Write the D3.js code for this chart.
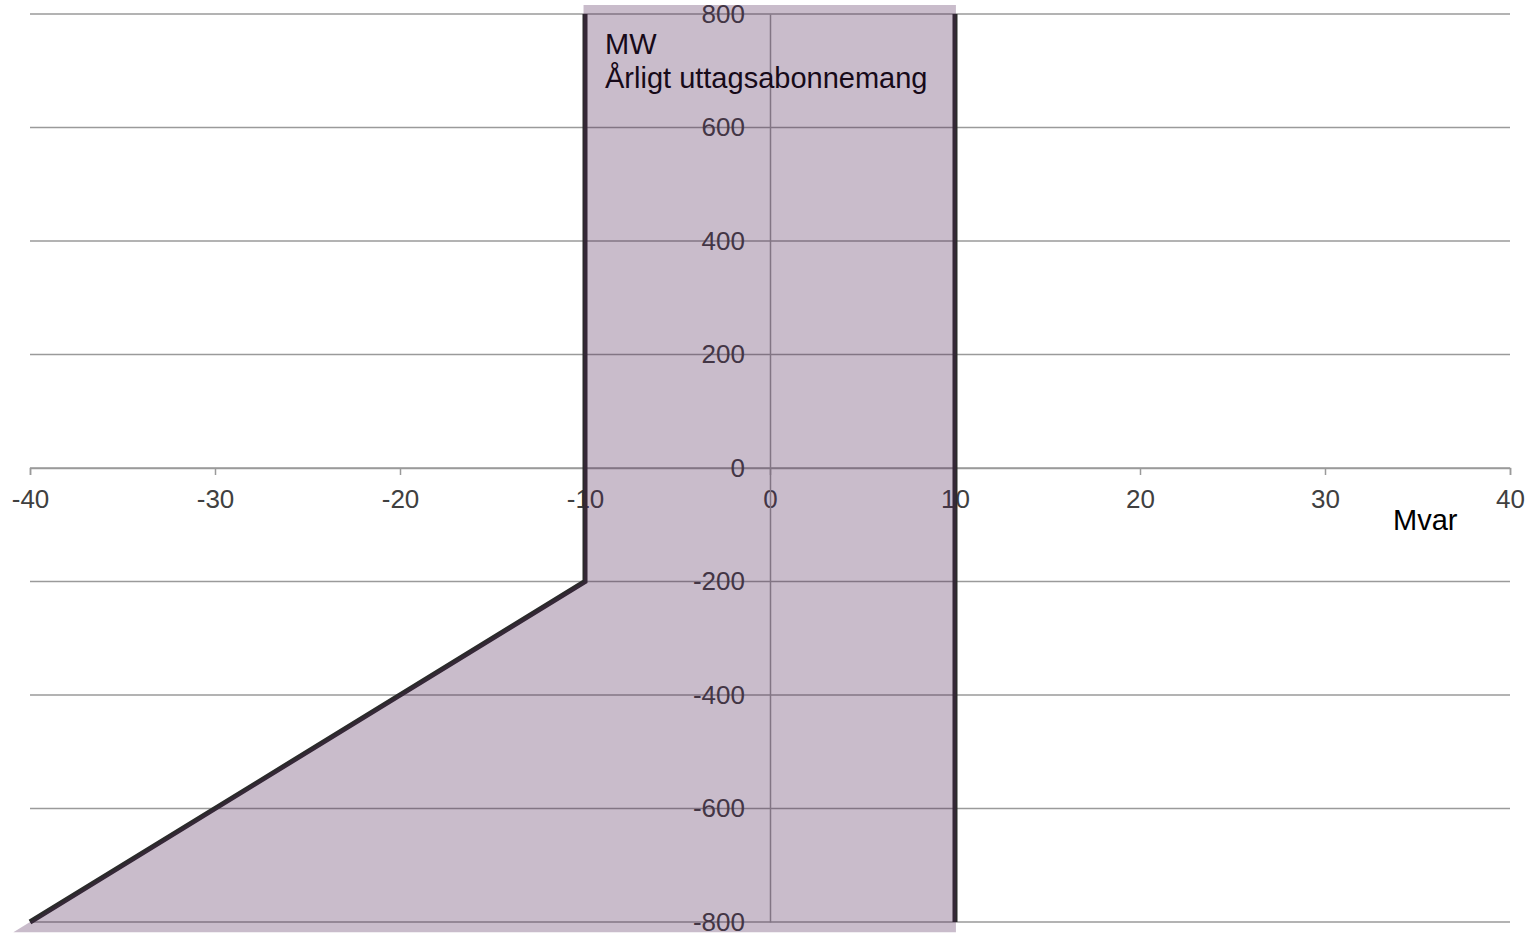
<!DOCTYPE html>
<html>
<head>
<meta charset="utf-8">
<script src="https://cdn.jsdelivr.net/npm/d3@7"></script>
<style>
  body { margin: 0; background: #fff; }
  text { font-family: "Liberation Sans", Arial, sans-serif; }
</style>
</head>
<body>
<script>
var w = 1536;
var h = 934;

// ticks
var xTicks = [-40, -30, -20, -10, 0, 10, 20, 30, 40];
var yTicks = [-800, -600, -400, -200, 0, 200, 400, 600, 800];

// boundary lines (Mvar, MW)
var leftLineX = [-40, -10, -10];
var leftLineY = [-800, -200, 800];
var rightLineX = [10, 10];
var rightLineY = [800, -800];

// shaded region (slightly larger than the boundary)
var areaX = [-40.9, -10.05, -10.08, 10.05, 10.05];
var areaY = [-818, -200, 816, 816, -818];

// plain hyphen for negatives, like the original
function fmt(d) {
    return String(d);
}

var xScale = d3.scaleLinear()
    .domain([-40, 40])
    .range([30, 1510]);

var yScale = d3.scaleLinear()
    .domain([-800, 800])
    .range([922, 14]);

var svg = d3.select("body")
    .append("svg")
    .attr("width", w)
    .attr("height", h);

// horizontal gridlines
svg.append("g")
    .selectAll("line")
    .data(yTicks)
    .enter()
    .append("line")
    .attr("x1", xScale(-40))
    .attr("x2", xScale(40))
    .attr("y1", function (d) { return yScale(d); })
    .attr("y2", function (d) { return yScale(d); })
    .attr("stroke", "#9a9a9a")
    .attr("stroke-width", 1.5);

// x axis through y = 0
var xAxis = d3.axisBottom(xScale)
    .tickValues(xTicks)
    .tickSize(7)
    .tickPadding(15)
    .tickFormat(fmt);

var gx = svg.append("g")
    .attr("transform", "translate(0," + yScale(0) + ")")
    .call(xAxis);
gx.select(".domain").attr("stroke", "#9a9a9a").attr("stroke-width", 1.5);
gx.selectAll(".tick line").attr("stroke", "#9a9a9a").attr("stroke-width", 1.5);
gx.selectAll(".tick text")
    .attr("fill", "#404040")
    .style("font-size", "26px")
    .style("font-family", "Liberation Sans, Arial, sans-serif");

// y axis through x = 0
var yAxis = d3.axisLeft(yScale)
    .tickValues(yTicks)
    .tickSize(0)
    .tickPadding(25)
    .tickFormat(fmt);

var gy = svg.append("g")
    .attr("transform", "translate(" + xScale(0) + ",0)")
    .call(yAxis);
gy.select(".domain").attr("stroke", "#9a9a9a").attr("stroke-width", 1.5);
gy.selectAll(".tick text")
    .attr("fill", "#404040")
    .style("font-size", "26px")
    .style("font-family", "Liberation Sans, Arial, sans-serif");

// axis titles
svg.append("text")
    .attr("x", 605)
    .attr("y", 54)
    .style("font-size", "29px")
    .attr("fill", "#000")
    .text("MW");

svg.append("text")
    .attr("x", 605)
    .attr("y", 88)
    .style("font-size", "29px")
    .attr("fill", "#000")
    .text("Årligt uttagsabonnemang");

svg.append("text")
    .attr("x", 1393)
    .attr("y", 530)
    .style("font-size", "29px")
    .attr("fill", "#000")
    .text("Mvar");

// boundary lines
var line = d3.line()
    .x(function (d) { return xScale(d[0]); })
    .y(function (d) { return yScale(d[1]); });

svg.append("path")
    .datum(d3.zip(leftLineX, leftLineY))
    .attr("d", line)
    .attr("fill", "none")
    .attr("stroke", "#2b2b2b")
    .attr("stroke-width", 5)
    .attr("stroke-linejoin", "miter");

svg.append("path")
    .datum(d3.zip(rightLineX, rightLineY))
    .attr("d", line)
    .attr("fill", "none")
    .attr("stroke", "#2b2b2b")
    .attr("stroke-width", 5);

// shaded region, drawn on top
svg.append("path")
    .datum(d3.zip(areaX, areaY))
    .attr("d", function (d) { return line(d) + "Z"; })
    .attr("fill", "rgb(75,32,82)")
    .attr("fill-opacity", 0.3)
    .attr("stroke", "none");
</script>
</body>
</html>
